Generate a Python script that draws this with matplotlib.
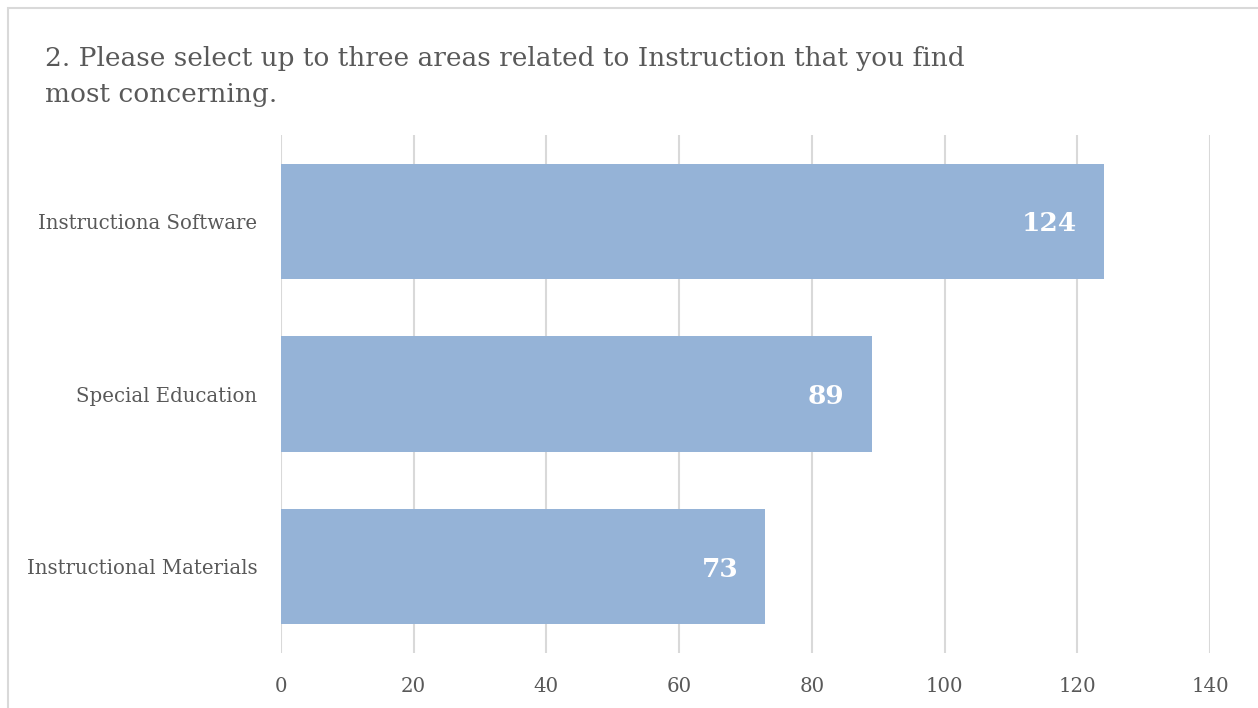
import matplotlib
matplotlib.use("Agg")
import matplotlib.pyplot as plt
from matplotlib.patches import Rectangle

categories = ["Instructiona Software", "Special Education", "Instructional Materials"]
counts = [124, 89, 73]
x_ticks = [0, 20, 40, 60, 80, 100, 120, 140]
title = "2. Please select up to three areas related to Instruction that you find\nmost concerning."

W, H = 1258, 708
fig = plt.figure(figsize=(W / 100, H / 100), dpi=100)
fig.patch.set_facecolor("white")

serif = ["DejaVu Serif"]
text_color = "#595959"
grid_color = "#D9D9D9"
bar_color = "#95B3D7"

# outer chart frame (top and left edges visible)
fig.add_artist(Rectangle((7.5 / W, -0.1), 1.2, 1.1 - 8.5 / H, transform=fig.transFigure,
                         fill=False, edgecolor=grid_color, linewidth=1.5))

left, right = 281 / W, 1210 / W
top, bottom = 1 - 135 / H, 1 - 653 / H
ax = fig.add_axes([left, bottom, right - left, top - bottom])

y = list(range(len(categories)))
ax.barh(y, counts, height=0.667, color=bar_color, zorder=2)
ax.set_ylim(len(categories) - 0.5, -0.5)
ax.set_xlim(0, 140)
ax.set_xticks(x_ticks)
ax.set_yticks(y)
ax.set_yticklabels(categories, family=serif, fontsize=14.2, color=text_color)
ax.set_xticklabels([str(t) for t in x_ticks], family=serif, fontsize=14.2, color=text_color)
ax.tick_params(axis="both", length=0)
ax.tick_params(axis="y", pad=17)
ax.tick_params(axis="x", pad=17)
ax.grid(axis="x", color=grid_color, linewidth=1.5, zorder=0)
for s in ax.spines.values():
    s.set_visible(False)

for yi, v in zip(y, counts):
    ax.annotate(str(v), xy=(v, yi), xytext=(-27, 0), textcoords="offset pixels",
                ha="right", va="center_baseline", color="white", fontweight="bold",
                family=serif, fontsize=19)

fig.text(45 / W, 1 - 46 / H, title, family=serif, fontsize=19, color=text_color,
         ha="left", va="top", linespacing=1.55)

fig.savefig("out.png", dpi=100, facecolor="white")
